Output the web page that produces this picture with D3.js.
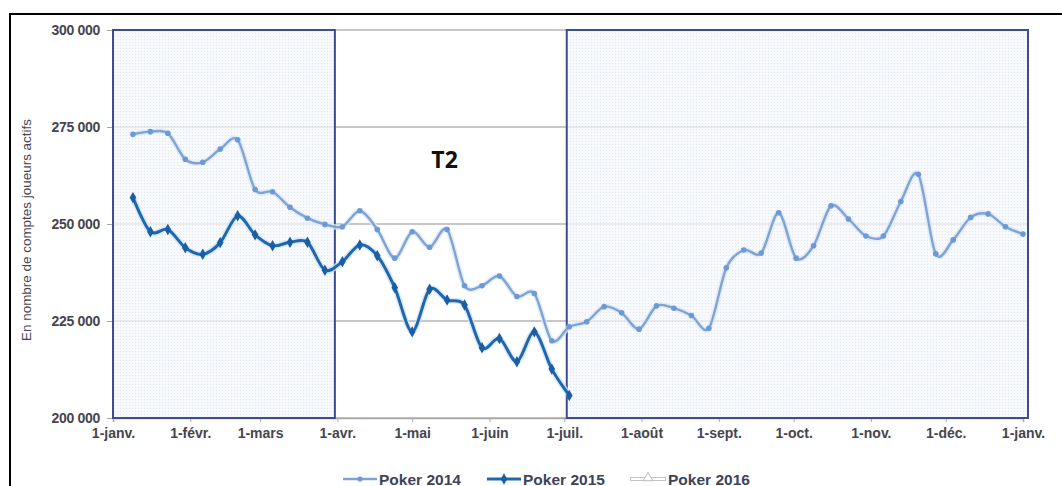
<!DOCTYPE html>
<html>
<head>
<meta charset="utf-8">
<script src="https://d3js.org/d3.v7.min.js"></script>
<style>
  html, body { margin: 0; padding: 0; background: #fff; }
  svg { display: block; font-family: "Liberation Sans", Arial, sans-serif; }
</style>
</head>
<body>
<svg id="chart" width="1062" height="486"></svg>
<script>
// weekly readings, first week starting 9 Jan
const firstWeek = new Date(2014, 0, 9);

const poker2014 = [
  273100, 273800, 273400, 266700, 265900, 269300, 271700, 258900, 258300, 254300,
  251500, 249900, 249300, 253400, 248600, 241200, 248000, 244000, 248600, 234100,
  234100, 236600, 231300, 232100, 219900, 223500, 224800, 228700, 227100, 222900,
  228900, 228300, 226400, 223100, 238700, 243300, 242500, 252900, 241200, 244400,
  254700, 251300, 246900, 246900, 255800, 262800, 242300, 245900, 251700, 252600,
  249300, 247400
];

const poker2015 = [
  256800, 248000, 248600, 243900, 242200, 245200, 252100, 247200, 244400, 245300,
  245300, 238100, 240300, 244600, 241800, 233600, 222200, 233200, 230400, 229100,
  218100, 220500, 214500, 222200, 212600, 205800
];

const monthLabels = ['1-janv.', '1-févr.', '1-mars', '1-avr.', '1-mai', '1-juin',
  '1-juil.', '1-août', '1-sept.', '1-oct.', '1-nov.', '1-déc.', '1-janv.'];

const yTicks = [200000, 225000, 250000, 275000, 300000];

// shaded quarters (T1 and second half)
const shadedPeriods = [
  [new Date(2014, 0, 1), new Date(2014, 2, 31)],
  [new Date(2014, 6, 2), new Date(2015, 0, 3)]
];

const legendItems = ['Poker 2014', 'Poker 2015', 'Poker 2016'];

const svg = d3.select('#chart');

const x = d3.scaleTime()
  .domain([new Date(2014, 0, 1), new Date(2015, 0, 1)])
  .range([113, 1023]);

const y = d3.scaleLinear()
  .domain([200000, 300000])
  .range([418, 30]);

const weekDate = i => d3.timeDay.offset(firstWeek, 7 * i);

// dotted fill for shaded periods
const defs = svg.append('defs');
const pat = defs.append('pattern')
  .attr('id', 'dots')
  .attr('width', 3).attr('height', 3)
  .attr('patternUnits', 'userSpaceOnUse');
pat.append('rect').attr('width', 3).attr('height', 3).attr('fill', '#f4f7fb');
pat.append('rect').attr('width', 1).attr('height', 1).attr('fill', '#d8e0ea');

// outer frame
svg.append('path')
  .attr('d', 'M10,490 L10,14 L1070,14')
  .attr('fill', 'none')
  .attr('stroke', '#000')
  .attr('stroke-width', 2);

// gridlines
svg.append('g')
  .selectAll('line')
  .data(yTicks)
  .join('line')
  .attr('x1', x.range()[0])
  .attr('x2', x.range()[1] + 4)
  .attr('y1', d => y(d))
  .attr('y2', d => y(d))
  .attr('stroke', '#b4b4b4')
  .attr('stroke-width', 1.5);

// shaded boxes
svg.append('g')
  .selectAll('rect')
  .data(shadedPeriods)
  .join('rect')
  .attr('x', d => x(d[0]))
  .attr('y', y(300000))
  .attr('width', d => x(d[1]) - x(d[0]))
  .attr('height', y(200000) - y(300000))
  .attr('fill', 'url(#dots)')
  .attr('fill-opacity', 0.75);

const labelFont = '"Liberation Sans", Arial, sans-serif';

// y axis
const yAxis = svg.append('g')
  .attr('transform', `translate(${x.range()[0]},0)`)
  .call(d3.axisLeft(y)
    .tickValues(yTicks)
    .tickSize(6)
    .tickPadding(7)
    .tickFormat(d => d3.format(',')(d).replace(',', ' ')));
yAxis.select('.domain').remove();
yAxis.selectAll('line').attr('stroke', '#a8a8a8');
yAxis.selectAll('text')
  .attr('fill', '#45454f')
  .attr('font-size', 14)
  .attr('font-weight', 'bold')
  .attr('letter-spacing', -0.3)
  .attr('font-family', labelFont);

// x axis
const months = d3.timeMonth.range(new Date(2014, 0, 1), new Date(2015, 0, 2));
const xAxis = svg.append('g')
  .attr('transform', `translate(0,${y(200000)})`)
  .call(d3.axisBottom(x)
    .tickValues(months)
    .tickSize(4)
    .tickPadding(6)
    .tickFormat((d, i) => monthLabels[i]));
xAxis.select('.domain').attr('stroke', '#a8a8a8').attr('stroke-width', 1.5);
xAxis.selectAll('line').attr('stroke', '#a8a8a8');
xAxis.selectAll('text')
  .attr('fill', '#45454f')
  .attr('font-size', 14)
  .attr('font-weight', 'bold')
  .attr('font-family', labelFont);

// box borders above axis lines
svg.append('g')
  .selectAll('rect')
  .data(shadedPeriods)
  .join('rect')
  .attr('x', d => x(d[0]))
  .attr('y', y(300000))
  .attr('width', d => x(d[1]) - x(d[0]))
  .attr('height', y(200000) - y(300000))
  .attr('fill', 'none')
  .attr('stroke', '#3e4d93')
  .attr('stroke-width', 2);

// y title
svg.append('text')
  .attr('transform', `translate(31,${(y(200000) + y(300000)) / 2 + 6}) rotate(-90)`)
  .attr('text-anchor', 'middle')
  .attr('font-size', 12.5)
  .attr('fill', '#45454f')
  .attr('textLength', 222)
  .attr('lengthAdjust', 'spacingAndGlyphs')
  .text('En nombre de comptes joueurs actifs');

// T2 label
svg.append('text')
  .attr('x', x(new Date(2014, 4, 14)))
  .attr('y', y(264400))
  .attr('text-anchor', 'middle')
  .attr('font-family', '"Open Sans", sans-serif')
  .attr('font-weight', 'bold')
  .attr('font-size', 23)
  .attr('fill', '#111')
  .text('T2');

// lines
const line = d3.line()
  .x((d, i) => x(weekDate(i)))
  .y(d => y(d))
  .curve(d3.curveCardinal.tension(0.1));

const series = [
  { name: 'Poker 2014', values: poker2014, color: '#7fa4d4', width: 2.4, halo: '#dbe9f8' },
  { name: 'Poker 2015', values: poker2015, color: '#1f68b0', width: 3, halo: '#d3e3f3' }
];

series.forEach(s => {
  svg.append('path')
    .datum(s.values)
    .attr('fill', 'none')
    .attr('stroke', s.halo)
    .attr('stroke-width', s.width + 3)
    .attr('stroke-opacity', 0.8)
    .attr('d', line);
  svg.append('path')
    .datum(s.values)
    .attr('fill', 'none')
    .attr('stroke', s.color)
    .attr('stroke-width', s.width)
    .attr('stroke-linejoin', 'round')
    .attr('d', line);
});

// markers
svg.append('g')
  .selectAll('circle')
  .data(poker2014)
  .join('circle')
  .attr('cx', (d, i) => x(weekDate(i)))
  .attr('cy', d => y(d))
  .attr('r', 2.8)
  .attr('fill', '#6d9ad6');

const diamond = d3.symbol().type(d3.symbolDiamond).size(38);
svg.append('g')
  .selectAll('path')
  .data(poker2015)
  .join('path')
  .attr('transform', (d, i) => `translate(${x(weekDate(i))},${y(d)})`)
  .attr('d', diamond)
  .attr('fill', '#1a5ea6');

// legend
const legendX = [343, 487, 630];
const lg = svg.append('g').attr('transform', 'translate(0,479)');
legendItems.forEach((name, i) => {
  const g = lg.append('g').attr('transform', `translate(${legendX[i]},0)`);
  if (i === 0) {
    g.append('line').attr('x1', 0).attr('x2', 34).attr('stroke', '#7fa4d4').attr('stroke-width', 2.4);
    g.append('circle').attr('cx', 17).attr('r', 2.6).attr('fill', '#6d9ad6');
  } else if (i === 1) {
    g.append('line').attr('x1', 0).attr('x2', 34).attr('stroke', '#1f68b0').attr('stroke-width', 3);
    g.append('path').attr('transform', 'translate(17,0)').attr('d', diamond).attr('fill', '#1a5ea6');
  } else {
    g.append('line').attr('x1', 0).attr('x2', 36).attr('stroke', '#c4c4c4').attr('stroke-width', 4);
    g.append('line').attr('x1', 1).attr('x2', 35).attr('stroke', '#fff').attr('stroke-width', 2);
    g.append('path')
      .attr('transform', 'translate(18,-1)')
      .attr('d', d3.symbol().type(d3.symbolTriangle).size(40))
      .attr('fill', '#fff')
      .attr('stroke', '#bdbdbd');
  }
  g.append('text')
    .attr('x', i === 2 ? 38 : 36)
    .attr('y', 5.5)
    .attr('font-size', 15.5)
    .attr('font-weight', 'bold')
    .attr('fill', '#3d4558')
    .text(name);
});
</script>
</body>
</html>
